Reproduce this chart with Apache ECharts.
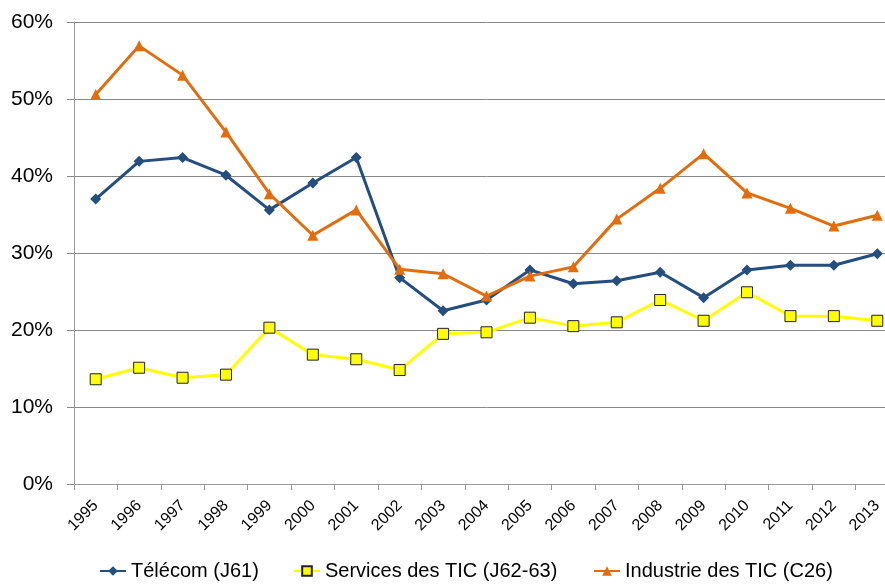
<!DOCTYPE html>
<html>
<head>
<meta charset="utf-8">
<script src="https://cdn.jsdelivr.net/npm/echarts@6/dist/echarts.min.js"></script>
<style>
  html, body { margin: 0; padding: 0; background: #fff; overflow: hidden; }
  #chart { width: 899px; height: 585px; }
</style>
</head>
<body>
<div id="chart"></div>
<script>
// données (en %)
var years = ["1995", "1996", "1997", "1998", "1999", "2000", "2001", "2002", "2003", "2004",
  "2005", "2006", "2007", "2008", "2009", "2010", "2011", "2012", "2013"];
var telecom = [37.0, 41.9, 42.4, 40.1, 35.6, 39.1, 42.4, 26.8, 22.5, 23.9,
  27.8, 26.0, 26.4, 27.5, 24.2, 27.8, 28.4, 28.4, 29.9];
var servicesTic = [13.6, 15.1, 13.8, 14.2, 20.3, 16.8, 16.2, 14.8, 19.5, 19.7,
  21.6, 20.5, 21.0, 23.9, 21.2, 24.9, 21.8, 21.8, 21.2];
var industrieTic = [50.6, 56.9, 53.1, 45.7, 37.7, 32.3, 35.6, 27.9, 27.3, 24.4,
  27.0, 28.2, 34.4, 38.4, 42.9, 37.8, 35.8, 33.5, 34.9];
var seriesNames = ["Télécom (J61)", "Services des TIC (J62-63)", "Industrie des TIC (C26)"];

var font = '"Liberation Sans Narrow", "Liberation Sans", Arial, sans-serif';

function legendAt(name, left) {
  return {
    data: [name],
    left: left,
    top: 556,
    itemWidth: 26,
    itemHeight: 12,
    textStyle: { fontFamily: font, fontSize: 20, color: "#000" },
  };
}

var chart = echarts.init(document.getElementById("chart"));
chart.setOption({
  animation: false,
  textStyle: { fontFamily: font, color: "#000" },
  grid: {
    left: 74,
    top: 22,
    right: 0,
    bottom: 101,
  },
  legend: [
    legendAt(seriesNames[0], 94),
    legendAt(seriesNames[1], 288),
    legendAt(seriesNames[2], 588),
  ],
  xAxis: {
    type: "category",
    data: years,
    boundaryGap: true,
    axisLine: { lineStyle: { color: "#999", width: 1 } },
    axisTick: { show: true, length: 6, lineStyle: { color: "#999" } },
    axisLabel: {
      rotate: 45,
      fontSize: 16,
      fontFamily: font,
      color: "#000",
      margin: 19,
      interval: 0,
    },
  },
  yAxis: {
    type: "value",
    min: 0,
    max: 60,
    interval: 10,
    axisLine: { show: true, lineStyle: { color: "#999", width: 1 } },
    axisTick: { show: true, length: 7, lineStyle: { color: "#888" } },
    axisLabel: {
      formatter: "{value}%",
      fontSize: 21,
      fontFamily: font,
      color: "#000",
      margin: 21,
    },
    splitLine: { lineStyle: { color: "#888", width: 1 } },
  },
  series: [
    {
      name: seriesNames[0],
      type: "line",
      data: telecom,
      symbol: "diamond",
      symbolSize: 11,
      lineStyle: { color: "#254e80", width: 3 },
      itemStyle: { color: "#254e80" },
    },
    {
      name: seriesNames[1],
      type: "line",
      data: servicesTic,
      symbol: "rect",
      symbolSize: 11,
      lineStyle: { color: "#ffff00", width: 3 },
      itemStyle: { color: "#ffff00", borderColor: "#222", borderWidth: 1 },
    },
    {
      name: seriesNames[2],
      type: "line",
      data: industrieTic,
      symbol: "triangle",
      symbolSize: 11,
      lineStyle: { color: "#e46c0a", width: 3 },
      itemStyle: { color: "#e46c0a" },
    },
  ],
});
</script>
</body>
</html>
